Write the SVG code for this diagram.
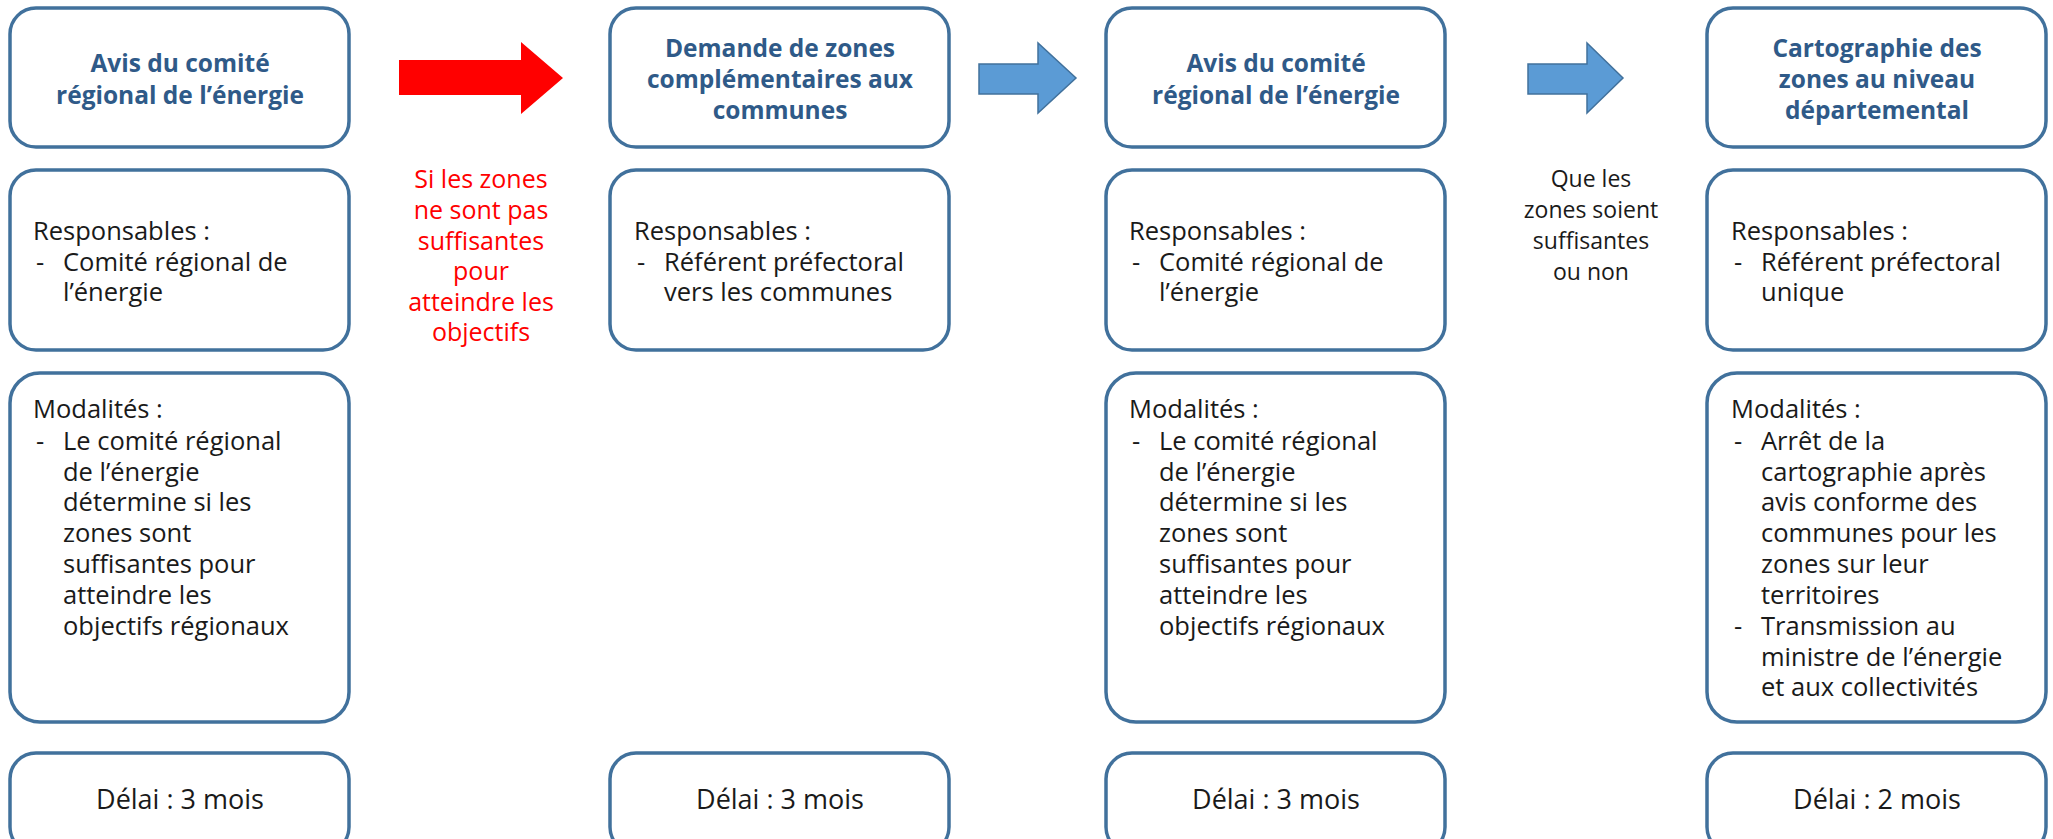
<svg xmlns="http://www.w3.org/2000/svg" width="2053" height="839" viewBox="0 0 2053 839">
<style>
.box{fill:#ffffff;stroke:#41719C;stroke-width:3.5}
.title{font-family:"Open Sans","Liberation Sans",sans-serif;font-weight:bold;font-size:24.5px;fill:#2F5A88;text-anchor:middle}
.body{font-family:"Open Sans","Liberation Sans",sans-serif;font-size:25.5px;fill:#1a1a1a}
.delai{font-family:"Open Sans","Liberation Sans",sans-serif;font-size:27px;fill:#1a1a1a;text-anchor:middle}
.red{font-family:"Open Sans","Liberation Sans",sans-serif;font-size:25px;fill:#FF0000;text-anchor:middle}
.blk{font-family:"Open Sans","Liberation Sans",sans-serif;font-size:23px;fill:#1a1a1a;text-anchor:middle}
.barrow{fill:#5B9BD5;stroke:#41719C;stroke-width:1.5}
.rarrow{fill:#FF0000}
</style>
<rect width="2053" height="839" fill="#ffffff"/>
<g id="connectors">
<polygon class="rarrow" points="399,60 521,60 521,42 563,78 521,114 521,95 399,95"/>
<polygon class="barrow" points="979,64 1038,64 1038,43 1076,78 1038,113 1038,94 979,94"/>
<polygon class="barrow" points="1528,64 1587,64 1587,43 1623,78 1587,113 1587,94 1528,94"/>
</g>
<g id="label-red">
<text class="red"><tspan x="481" y="188">Si les zones</tspan><tspan x="481" y="219">ne sont pas</tspan><tspan x="481" y="250">suffisantes</tspan><tspan x="481" y="280">pour</tspan><tspan x="481" y="311">atteindre les</tspan><tspan x="481" y="341">objectifs</tspan></text>
</g>
<g id="label-black">
<text class="blk"><tspan x="1591" y="187">Que les</tspan><tspan x="1591" y="218">zones soient</tspan><tspan x="1591" y="249">suffisantes</tspan><tspan x="1591" y="280">ou non</tspan></text>
</g>
<g id="col1-title">
<rect class="box" x="10" y="8" width="339" height="139" rx="26"/>
<text class="title"><tspan x="180" y="72">Avis du comité</tspan><tspan x="180" y="104">régional de l’énergie</tspan></text>
</g>
<g id="col1-resp">
<rect class="box" x="10" y="170" width="339" height="180" rx="26"/>
<text class="body"><tspan x="33" y="240">Responsables :</tspan><tspan x="36" y="271">-</tspan><tspan x="63" y="271">Comité régional de</tspan><tspan x="63" y="301">l’énergie</tspan></text>
</g>
<g id="col1-mod">
<rect class="box" x="10" y="373" width="339" height="349" rx="30"/>
<text class="body"><tspan x="33" y="418">Modalités :</tspan><tspan x="36" y="450">-</tspan><tspan x="63" y="450">Le comité régional</tspan><tspan x="63" y="481">de l’énergie</tspan><tspan x="63" y="511">détermine si les</tspan><tspan x="63" y="542">zones sont</tspan><tspan x="63" y="573">suffisantes pour</tspan><tspan x="63" y="604">atteindre les</tspan><tspan x="63" y="635">objectifs régionaux</tspan></text>
</g>
<g id="col1-delai">
<rect class="box" x="10" y="753" width="339" height="100" rx="26"/>
<text class="delai" x="180" y="809">Délai : 3 mois</text>
</g>
<g id="col2-title">
<rect class="box" x="610" y="8" width="339" height="139" rx="26"/>
<text class="title"><tspan x="780" y="57">Demande de zones</tspan><tspan x="780" y="88">complémentaires aux</tspan><tspan x="780" y="119">communes</tspan></text>
</g>
<g id="col2-resp">
<rect class="box" x="610" y="170" width="339" height="180" rx="26"/>
<text class="body"><tspan x="634" y="240">Responsables :</tspan><tspan x="637" y="271">-</tspan><tspan x="664" y="271">Référent préfectoral</tspan><tspan x="664" y="301">vers les communes</tspan></text>
</g>
<g id="col2-delai">
<rect class="box" x="610" y="753" width="339" height="100" rx="26"/>
<text class="delai" x="780" y="809">Délai : 3 mois</text>
</g>
<g id="col3-title">
<rect class="box" x="1106" y="8" width="339" height="139" rx="26"/>
<text class="title"><tspan x="1276" y="72">Avis du comité</tspan><tspan x="1276" y="104">régional de l’énergie</tspan></text>
</g>
<g id="col3-resp">
<rect class="box" x="1106" y="170" width="339" height="180" rx="26"/>
<text class="body"><tspan x="1129" y="240">Responsables :</tspan><tspan x="1132" y="271">-</tspan><tspan x="1159" y="271">Comité régional de</tspan><tspan x="1159" y="301">l’énergie</tspan></text>
</g>
<g id="col3-mod">
<rect class="box" x="1106" y="373" width="339" height="349" rx="30"/>
<text class="body"><tspan x="1129" y="418">Modalités :</tspan><tspan x="1132" y="450">-</tspan><tspan x="1159" y="450">Le comité régional</tspan><tspan x="1159" y="481">de l’énergie</tspan><tspan x="1159" y="511">détermine si les</tspan><tspan x="1159" y="542">zones sont</tspan><tspan x="1159" y="573">suffisantes pour</tspan><tspan x="1159" y="604">atteindre les</tspan><tspan x="1159" y="635">objectifs régionaux</tspan></text>
</g>
<g id="col3-delai">
<rect class="box" x="1106" y="753" width="339" height="100" rx="26"/>
<text class="delai" x="1276" y="809">Délai : 3 mois</text>
</g>
<g id="col4-title">
<rect class="box" x="1707" y="8" width="339" height="139" rx="26"/>
<text class="title"><tspan x="1877" y="57">Cartographie des</tspan><tspan x="1877" y="88">zones au niveau</tspan><tspan x="1877" y="119">départemental</tspan></text>
</g>
<g id="col4-resp">
<rect class="box" x="1707" y="170" width="339" height="180" rx="26"/>
<text class="body"><tspan x="1731" y="240">Responsables :</tspan><tspan x="1734" y="271">-</tspan><tspan x="1761" y="271">Référent préfectoral</tspan><tspan x="1761" y="301">unique</tspan></text>
</g>
<g id="col4-mod">
<rect class="box" x="1707" y="373" width="339" height="349" rx="30"/>
<text class="body"><tspan x="1731" y="418">Modalités :</tspan><tspan x="1734" y="450">-</tspan><tspan x="1761" y="450">Arrêt de la</tspan><tspan x="1761" y="481">cartographie après</tspan><tspan x="1761" y="511">avis conforme des</tspan><tspan x="1761" y="542">communes pour les</tspan><tspan x="1761" y="573">zones sur leur</tspan><tspan x="1761" y="604">territoires</tspan><tspan x="1734" y="635">-</tspan><tspan x="1761" y="635">Transmission au</tspan><tspan x="1761" y="666">ministre de l’énergie</tspan><tspan x="1761" y="696">et aux collectivités</tspan></text>
</g>
<g id="col4-delai">
<rect class="box" x="1707" y="753" width="339" height="100" rx="26"/>
<text class="delai" x="1877" y="809">Délai : 2 mois</text>
</g>
</svg>
